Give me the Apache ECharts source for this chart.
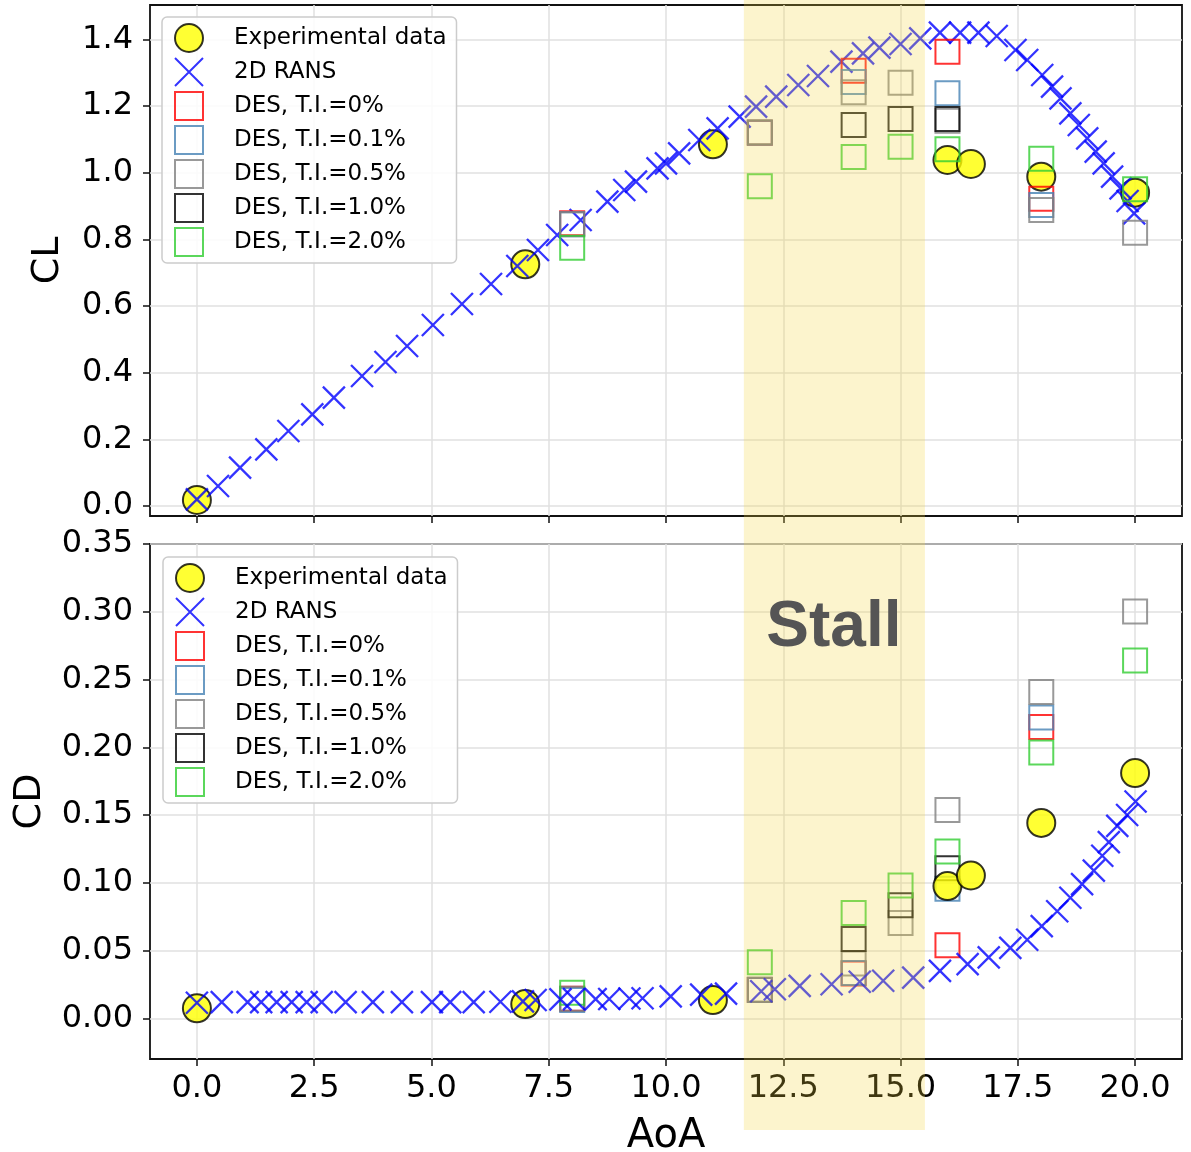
<!DOCTYPE html>
<html>
<head>
<meta charset="utf-8">
<script src="https://cdn.jsdelivr.net/npm/echarts@6/dist/echarts.min.js"></script>
<style>
  html, body { margin: 0; padding: 0; background: #ffffff; }
  #chart { width: 1191px; height: 1152px; }
</style>
</head>
<body>
<div id="chart"></div>
<script>
// ---- Experimental data ----
const expAoA = [0, 7, 11, 16, 16.5, 18, 20];
const expCL  = [0.018, 0.725, 1.085, 1.038, 1.026, 0.988, 0.94];
const expCD  = [0.0074, 0.0105, 0.0135, 0.0976, 0.1054, 0.1442, 0.181];

// ---- 2D RANS, lift ----
const ransClAoA = [0, 0.45, 0.92, 1.48, 1.95, 2.46, 2.92, 3.52, 4.02, 4.48, 5.03, 5.65, 6.27, 6.83,
  7.27, 7.68, 8.18, 8.75, 9.11, 9.36, 9.82, 10.0, 10.28, 10.71, 11.1, 11.57, 11.92, 12.35, 12.82,
  13.24, 13.74, 14.2, 14.55, 15.0, 15.42, 15.84, 16.27, 16.66, 17.05, 17.45, 17.7, 18.02, 18.23,
  18.41, 18.62, 18.8, 18.98, 19.16, 19.33, 19.51, 19.69, 19.84, 19.98];
const ransCl = [0.02, 0.06, 0.115, 0.17, 0.225, 0.275, 0.325, 0.39, 0.432, 0.48, 0.543, 0.606, 0.666, 0.72,
  0.768, 0.813, 0.858, 0.913, 0.948, 0.973, 1.013, 1.028, 1.058, 1.098, 1.133, 1.168, 1.198, 1.228, 1.263,
  1.29, 1.333, 1.358, 1.375, 1.386, 1.403, 1.42, 1.42, 1.42, 1.41, 1.368, 1.338, 1.293, 1.258,
  1.223, 1.178, 1.143, 1.103, 1.063, 1.028, 0.988, 0.953, 0.915, 0.878];

// ---- 2D RANS, drag ----
const ransCdAoA = [0, 0.53, 1.08, 1.37, 1.7, 2.02, 2.34, 2.66, 3.17, 3.75, 4.37, 5.01, 5.4, 5.9, 6.47, 6.95,
  7.22, 7.75, 8.04, 8.5, 8.79, 9.22, 9.5, 10.1, 10.75, 11.28, 12.03, 12.32, 12.85, 13.53, 14.13, 14.63,
  15.27, 15.84, 16.43, 16.88, 17.34, 17.7, 18.01, 18.34, 18.62, 18.87, 19.12, 19.3, 19.44, 19.62, 19.83, 20.01];
const ransCd = [0.0115, 0.012, 0.012, 0.012, 0.012, 0.012, 0.012, 0.012, 0.012, 0.012, 0.012, 0.012, 0.012, 0.012, 0.0122, 0.0125,
  0.0135, 0.014, 0.0142, 0.0142, 0.0143, 0.0146, 0.0148, 0.0162, 0.0175, 0.0182, 0.020, 0.0215, 0.024, 0.0252, 0.027, 0.0277,
  0.030, 0.035, 0.040, 0.045, 0.052, 0.058, 0.068, 0.079, 0.089, 0.099, 0.109, 0.12, 0.13, 0.142, 0.15, 0.16];

// ---- DES at several turbulence intensities ----
const des00AoA = [8, 12, 14, 16, 18];
const des00CL  = [0.848, 1.12, 1.306, 1.363, 0.922];
const des00CD  = [0.0145, 0.021, 0.033, 0.054, 0.215];

const des01AoA = [8, 12, 14, 16, 18];
const des01CL  = [0.845, 1.12, 1.272, 1.238, 0.903];
const des01CD  = [0.0135, 0.021, 0.0335, 0.0956, 0.222];

const des05AoA = [8, 12, 14, 15, 16, 18, 20];
const des05CL  = [0.845, 1.121, 1.241, 1.27, 1.156, 0.888, 0.82];
const des05CD  = [0.0145, 0.0213, 0.0405, 0.0703, 0.1537, 0.2408, 0.3002];

const des10AoA = [14, 15, 16];
const des10CL  = [1.143, 1.161, 1.161];
const des10CD  = [0.0585, 0.0834, 0.1108];

const des20AoA = [8, 12, 14, 15, 16, 18, 20];
const des20CL  = [0.775, 0.959, 1.047, 1.078, 1.07, 1.042, 0.95];
const des20CD  = [0.0188, 0.0414, 0.0777, 0.098, 0.1231, 0.1962, 0.2641];

// ---- Tick values and labels ----
const xTicks  = [0, 2.5, 5, 7.5, 10, 12.5, 15, 17.5, 20];
const clTicks = [0, 0.2, 0.4, 0.6, 0.8, 1.0, 1.2, 1.4];
const cdTicks = [0, 0.05, 0.10, 0.15, 0.20, 0.25, 0.30, 0.35];
const xTickLabels  = xTicks.map(v => v.toFixed(1));
const clTickLabels = clTicks.map(v => v.toFixed(1));
const cdTickLabels = cdTicks.map(v => v.toFixed(2));

// Stall region (AoA range) and its caption
const stallRange = [11.66, 15.52];
const stallText = 'Stall';
const stallTextAt = [13.58, 0.288];

const NAMES = ['Experimental data', '2D RANS', 'DES, T.I.=0%', 'DES, T.I.=0.1%',
               'DES, T.I.=0.5%', 'DES, T.I.=1.0%', 'DES, T.I.=2.0%'];

// ---- Drawing ----
const FONT = 'DejaVu Sans';
const crossPath  = 'path://M0,0L10,10M10,0L0,10';
const squarePath = 'path://M0,0L10,0L10,10L0,10Z';
const pts = (xs, ys) => xs.map((x, i) => [x, ys[i]]);

function labelFor(ticks, labels) {
  return v => {
    const i = ticks.findIndex(t => Math.abs(t - v) < 1e-9);
    return i >= 0 ? labels[i] : '';
  };
}

function expSeries(g, ys) {
  return { name: NAMES[0], type: 'scatter', xAxisIndex: g, yAxisIndex: g,
    symbol: 'circle', symbolSize: 28, data: pts(expAoA, ys),
    itemStyle: { color: '#ffff00', borderColor: '#000000', borderWidth: 2 } };
}
function ransSeries(g, xs, ys) {
  return { name: NAMES[1], type: 'scatter', xAxisIndex: g, yAxisIndex: g,
    symbol: crossPath, symbolSize: 22, data: pts(xs, ys),
    itemStyle: { color: 'rgba(0,0,0,0)', borderColor: '#0000ff', borderWidth: 2.3 } };
}
function desSeries(g, k, color, xs, ys) {
  return { name: NAMES[k], type: 'scatter', xAxisIndex: g, yAxisIndex: g,
    symbol: squarePath, symbolSize: 24, data: pts(xs, ys),
    itemStyle: { color: 'rgba(0,0,0,0)', borderColor: color, borderWidth: 2 } };
}

const DES_COLORS = ['#ff0000', '#4682b4', '#808080', '#000000', '#32cd32'];

const seriesList = [
  // lift
  expSeries(0, expCL),
  ransSeries(0, ransClAoA, ransCl),
  desSeries(0, 2, DES_COLORS[0], des00AoA, des00CL),
  desSeries(0, 3, DES_COLORS[1], des01AoA, des01CL),
  desSeries(0, 4, DES_COLORS[2], des05AoA, des05CL),
  desSeries(0, 5, DES_COLORS[3], des10AoA, des10CL),
  desSeries(0, 6, DES_COLORS[4], des20AoA, des20CL),
  // drag
  desSeries(1, 2, DES_COLORS[0], des00AoA, des00CD),
  desSeries(1, 3, DES_COLORS[1], des01AoA, des01CD),
  desSeries(1, 4, DES_COLORS[2], des05AoA, des05CD),
  desSeries(1, 5, DES_COLORS[3], des10AoA, des10CD),
  desSeries(1, 6, DES_COLORS[4], des20AoA, des20CD),
  expSeries(1, expCD),
  ransSeries(1, ransCdAoA, ransCd)
].map(s => Object.assign(s, { emphasis: { disabled: true }, silent: true, z: 3 }));

const gridLine = { show: true, lineStyle: { color: '#e0e0e0', width: 1.5 } };
const tickStyle = { show: true, inside: false, length: 7, lineStyle: { color: '#111111', width: 1.5 } };
const noLine = { show: false, onZero: false };

function legendAt(left, top) {
  return {
    orient: 'vertical', left: left, top: top,
    padding: [6, 10, 6, 12],
    itemWidth: 40, itemHeight: 28, itemGap: 4,
    backgroundColor: 'rgba(255,255,255,0.85)',
    borderColor: '#cccccc', borderWidth: 1.5, borderRadius: 5,
    selectedMode: false,
    itemStyle: { borderWidth: 2 },
    formatter: n => '{s|}' + n,
    textStyle: { fontFamily: FONT, fontSize: 23, lineHeight: 28, color: '#000000',
                 rich: { s: { width: 20, lineHeight: 28 } } },
    data: NAMES
  };
}

const chart = echarts.init(document.getElementById('chart'), null, { renderer: 'canvas' });

chart.setOption({
  animation: false,
  backgroundColor: '#ffffff',
  grid: [
    { left: 150, top: 5, width: 1032, height: 511, show: true, borderColor: '#111111', borderWidth: 1.8,
      containLabel: false, outerBoundsMode: 'none' },
    { left: 150, top: 544, width: 1032, height: 515, show: true, borderColor: '#111111', borderWidth: 1.8,
      containLabel: false, outerBoundsMode: 'none' }
  ],
  xAxis: [
    { gridIndex: 0, type: 'value', min: -1, max: 21,
      axisLine: noLine,
      axisTick: Object.assign({ customValues: xTicks }, tickStyle),
      axisLabel: { show: false, customValues: xTicks },
      splitLine: gridLine },
    { gridIndex: 1, type: 'value', min: -1, max: 21,
      name: 'AoA', nameLocation: 'middle', nameGap: 58,
      nameTextStyle: { fontFamily: FONT, fontSize: 40, color: '#000000' },
      axisLine: noLine,
      axisTick: Object.assign({ customValues: xTicks }, tickStyle),
      axisLabel: { customValues: xTicks, formatter: labelFor(xTicks, xTickLabels),
        fontFamily: FONT, fontSize: 32, color: '#000000', margin: 14 },
      splitLine: gridLine }
  ],
  yAxis: [
    { gridIndex: 0, type: 'value', min: -0.03, max: 1.503,
      name: 'CL', nameLocation: 'middle', nameGap: 83, nameRotate: 90,
      nameTextStyle: { fontFamily: FONT, fontSize: 38, color: '#000000' },
      axisLine: noLine,
      axisTick: Object.assign({ customValues: clTicks }, tickStyle),
      axisLabel: { customValues: clTicks, formatter: labelFor(clTicks, clTickLabels),
        fontFamily: FONT, fontSize: 32, color: '#000000', margin: 17 },
      splitLine: gridLine },
    { gridIndex: 1, type: 'value', min: -0.03, max: 0.35,
      name: 'CD', nameLocation: 'middle', nameGap: 101, nameRotate: 90,
      nameTextStyle: { fontFamily: FONT, fontSize: 38, color: '#000000' },
      axisLine: noLine,
      axisTick: Object.assign({ customValues: cdTicks }, tickStyle),
      axisLabel: { customValues: cdTicks, formatter: labelFor(cdTicks, cdTickLabels),
        fontFamily: FONT, fontSize: 32, color: '#000000', margin: 17 },
      splitLine: gridLine }
  ],
  legend: [legendAt(162, 17), legendAt(163, 557)],
  series: seriesList
});

// Stall band across both panels, plus its caption
const bx0 = chart.convertToPixel({ xAxisIndex: 1 }, stallRange[0]);
const bx1 = chart.convertToPixel({ xAxisIndex: 1 }, stallRange[1]);
const txt = chart.convertToPixel({ xAxisIndex: 1, yAxisIndex: 1 }, stallTextAt);

chart.setOption({
  graphic: [
    { type: 'rect', z: 50, silent: true,
      shape: { x: bx0, y: 0, width: bx1 - bx0, height: 1130 },
      style: { fill: 'rgba(243,214,60,0.26)' } },
    { type: 'text', z: 51, silent: true, x: txt[0], y: txt[1],
      style: { text: stallText, fontFamily: 'Liberation Sans', fontWeight: 'bold', fontSize: 64,
               fill: '#555555', align: 'center', verticalAlign: 'middle' } }
  ]
});
</script>
</body>
</html>
